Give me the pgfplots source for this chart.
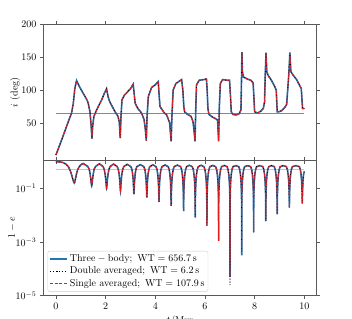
\documentclass[border=0pt]{standalone}
\usepackage{pgfplots}
\usepackage{pgfplotstable}
\pgfplotsset{compat=1.18}
\definecolor{cthree}{RGB}{31,119,180}
\definecolor{csingle}{RGB}{228,26,28}
\definecolor{ctopline}{RGB}{172,118,132}
\definecolor{cbotline}{RGB}{222,186,196}

\pgfplotstableread{
t i
0.00 1
0.25 26
0.50 52
0.63 65
0.70 80
0.76 102
0.83 114.5
0.95 105
1.10 95
1.25 85
1.30 80
1.37 67
1.42 45
1.45 26
1.48 45
1.53 60
1.64 70
1.84 85
1.95 95
2.04 102
2.10 90
2.17 82
2.38 67
2.50 60
2.55 52
2.59 27
2.62 60
2.66 85
2.75 92
2.85 96
3.00 102
3.11 109
3.15 95
3.19 80
3.30 72
3.45 65
3.55 55
3.60 40
3.64 23
3.67 60
3.72 90
3.85 104
4.00 108
4.12 113
4.15 95
4.19 75
4.35 66
4.46 62
4.58 50
4.61 35
4.64 22
4.67 60
4.72 100
4.83 110
5.06 116
5.11 100
5.15 75
5.18 67
5.30 63
5.44 60
5.52 52
5.57 35
5.60 22
5.63 70
5.66 108
5.77 115
5.95 116
6.06 117
6.09 100
6.12 72
6.16 63
6.30 59
6.45 56
6.51 54
6.53 38
6.55 22
6.58 75
6.62 110
6.71 116
6.90 115
6.99 115
7.03 90
7.06 67
7.12 63
7.25 62
7.38 64
7.45 70
7.47 110
7.49 158
7.51 128
7.55 120
7.70 117
7.85 115
7.94 111
7.97 90
8.00 67
8.12 65
8.25 68
8.35 72
8.40 82
8.43 126
8.46 157
8.49 128
8.55 122
8.66 116
8.79 107
8.87 100
8.91 67
8.99 67
9.10 69
9.20 73
9.29 78
9.38 126
9.42 157
9.46 128
9.55 123
9.69 116
9.80 108
9.88 102
9.93 72
10.00 72
}\inctable

\pgfplotstableread{
t a b c
0.00 0.97 0.97 0.97
0.10 0.965 0.965 0.965
0.20 0.95 0.95 0.95
0.30 0.90 0.90 0.90
0.40 0.80 0.80 0.80
0.50 0.64 0.64 0.64
0.58 0.45 0.45 0.45
0.64 0.30 0.30 0.30
0.70 0.19 0.19 0.19
0.73 0.16 0.16 0.16
0.74 0.155 0.155 0.155
0.75 0.16 0.16 0.16
0.78 0.21 0.21 0.21
0.83 0.35 0.35 0.35
0.88 0.50 0.50 0.50
0.94 0.64 0.64 0.64
1.02 0.77 0.77 0.77
1.10 0.84 0.84 0.84
1.285 0.65 0.65 0.65
1.34 0.515 0.515 0.515
1.375 0.352 0.352 0.352
1.407 0.209 0.209 0.209
1.427 0.141 0.141 0.141
1.435 0.126 0.126 0.126
1.44 0.122 0.122 0.122
1.445 0.126 0.126 0.126
1.453 0.141 0.141 0.141
1.473 0.209 0.209 0.209
1.505 0.352 0.352 0.352
1.54 0.515 0.515 0.515
1.595 0.65 0.65 0.65
1.75 0.82 0.82 0.82
1.896 0.648 0.648 0.648
1.944 0.51 0.51 0.51
1.98 0.345 0.345 0.345
2.01 0.197 0.197 0.197
2.028 0.122 0.122 0.122
2.035 0.104 0.104 0.104
2.04 0.10 0.10 0.10
2.045 0.104 0.104 0.104
2.052 0.122 0.122 0.122
2.07 0.197 0.197 0.197
2.10 0.345 0.345 0.345
2.136 0.51 0.51 0.51
2.184 0.648 0.648 0.648
2.32 0.80 0.80 0.80
2.468 0.645 0.645 0.645
2.512 0.506 0.506 0.506
2.545 0.339 0.339 0.339
2.5725 0.1875 0.1875 0.1875
2.589 0.1055 0.1055 0.1055
2.5955 0.0845 0.0845 0.0845
2.60 0.079 0.079 0.079
2.6045 0.0845 0.0845 0.0845
2.611 0.1055 0.1055 0.1055
2.6275 0.1875 0.1875 0.1875
2.655 0.339 0.339 0.339
2.688 0.506 0.506 0.506
2.732 0.645 0.645 0.645
2.87 0.78 0.78 0.78
3.02 0.643 0.643 0.643
3.06 0.504 0.504 0.504
3.09 0.335 0.335 0.335
3.115 0.18 0.18 0.18
3.13 0.092 0.092 0.092
3.136 0.067 0.067 0.067
3.14 0.06 0.06 0.06
3.144 0.067 0.067 0.067
3.15 0.092 0.092 0.092
3.165 0.18 0.18 0.18
3.19 0.335 0.335 0.335
3.22 0.504 0.504 0.504
3.26 0.643 0.643 0.643
3.40 0.76 0.76 0.76
3.54 0.642 0.642 0.642
3.58 0.502 0.502 0.502
3.61 0.333 0.333 0.333
3.635 0.176 0.176 0.176
3.65 0.083 0.083 0.083
3.656 0.054 0.054 0.054
3.66 0.0447 0.0447 0.0447
3.664 0.054 0.054 0.054
3.67 0.083 0.083 0.083
3.685 0.176 0.176 0.176
3.71 0.333 0.333 0.333
3.74 0.502 0.502 0.502
3.78 0.642 0.642 0.642
3.905 0.75 0.75 0.75
4.03 0.641 0.641 0.641
4.07 0.501 0.501 0.501
4.10 0.3315 0.3315 0.3315
4.125 0.173 0.173 0.173
4.14 0.0768 0.0768 0.0768
4.146 0.0436 0.0436 0.0436
4.15 0.0316 0.0316 0.0316
4.154 0.0436 0.0436 0.0436
4.16 0.0768 0.0768 0.0768
4.175 0.173 0.173 0.173
4.20 0.3315 0.3315 0.3315
4.23 0.501 0.501 0.501
4.27 0.641 0.641 0.641
4.395 0.74 0.74 0.74
4.52 0.64 0.64 0.64
4.56 0.50 0.50 0.50
4.59 0.33 0.33 0.33
4.615 0.1715 0.1715 0.1715
4.63 0.0735 0.0735 0.0735
4.636 0.0374 0.0374 0.0374
4.64 0.0224 0.0224 0.0224
4.644 0.0374 0.0374 0.0374
4.65 0.0735 0.0735 0.0735
4.665 0.1715 0.1715 0.1715
4.69 0.33 0.33 0.33
4.72 0.50 0.50 0.50
4.76 0.64 0.64 0.64
4.89 0.73 0.73 0.73
5.02 0.64 0.64 0.64
5.06 0.50 0.50 0.50
5.09 0.33 0.33 0.33
5.115 0.1706 0.1706 0.1706
5.13 0.0714 0.0714 0.0714
5.136 0.033 0.033 0.033
5.14 0.0141 0.0141 0.0141
5.144 0.033 0.033 0.033
5.15 0.0714 0.0714 0.0714
5.165 0.1706 0.1706 0.1706
5.19 0.33 0.33 0.33
5.22 0.50 0.50 0.50
5.26 0.64 0.64 0.64
5.375 0.72 0.72 0.72
5.49 0.64 0.64 0.64
5.53 0.50 0.50 0.50
5.56 0.33 0.33 0.33
5.585 0.17 0.17 0.17
5.60 0.0705 0.0705 0.0705
5.606 0.0311 0.0311 0.0311
5.61 0.0083 0.0083 0.0083
5.614 0.0311 0.0311 0.0311
5.62 0.0705 0.0705 0.0705
5.635 0.17 0.17 0.17
5.66 0.33 0.33 0.33
5.69 0.50 0.50 0.50
5.73 0.64 0.64 0.64
5.845 0.72 0.72 0.72
5.96 0.64 0.64 0.64
6.00 0.50 0.50 0.50
6.03 0.33 0.33 0.33
6.055 0.17 0.17 0.17
6.07 0.0701 0.0701 0.0701
6.076 0.0303 0.0303 0.0303
6.08 0.0041 0.0041 0.0041
6.084 0.0303 0.0303 0.0303
6.09 0.0701 0.0701 0.0701
6.105 0.17 0.17 0.17
6.13 0.33 0.33 0.33
6.16 0.50 0.50 0.50
6.20 0.64 0.64 0.64
6.315 0.71 0.71 0.71
6.43 0.64 0.64 0.64
6.47 0.50 0.50 0.50
6.50 0.33 0.33 0.33
6.525 0.17 0.17 0.17
6.54 0.07 0.07 0.07
6.546 0.03 0.03 0.03
6.55 0.0011 0.0011 0.0011
6.554 0.03 0.03 0.03
6.56 0.07 0.07 0.07
6.575 0.17 0.17 0.17
6.60 0.33 0.33 0.33
6.63 0.50 0.50 0.50
6.67 0.64 0.64 0.64
6.78 0.71 0.71 0.71
6.89 0.64 0.64 0.64
6.93 0.50 0.50 0.50
6.96 0.33 0.33 0.33
6.985 0.17 0.17 0.17
7.00 0.07 0.07 0.07
7.006 0.03 0.03 0.03
7.01 5e-5 2.5e-5 5e-5
7.014 0.03 0.03 0.03
7.02 0.07 0.07 0.07
7.035 0.17 0.17 0.17
7.06 0.33 0.33 0.33
7.09 0.50 0.50 0.50
7.13 0.64 0.64 0.64
7.245 0.70 0.70 0.70
7.36 0.64 0.64 0.64
7.40 0.50 0.50 0.50
7.43 0.33 0.33 0.33
7.455 0.17 0.17 0.17
7.47 0.07 0.07 0.07
7.476 0.03 0.03 0.03
7.48 3.2e-4 4.5e-4 4.5e-4
7.484 0.03 0.03 0.03
7.49 0.07 0.07 0.07
7.505 0.17 0.17 0.17
7.53 0.33 0.33 0.33
7.56 0.50 0.50 0.50
7.60 0.64 0.64 0.64
7.72 0.70 0.70 0.70
7.84 0.64 0.64 0.64
7.88 0.50 0.50 0.50
7.91 0.33 0.33 0.33
7.935 0.17 0.17 0.17
7.95 0.07 0.07 0.07
7.956 0.0301 0.0301 0.0301
7.96 0.0023 0.0023 0.0023
7.964 0.0301 0.0301 0.0301
7.97 0.07 0.07 0.07
7.985 0.17 0.17 0.17
8.01 0.33 0.33 0.33
8.04 0.50 0.50 0.50
8.08 0.64 0.64 0.64
8.205 0.70 0.70 0.70
8.33 0.64 0.64 0.64
8.37 0.50 0.50 0.50
8.40 0.33 0.33 0.33
8.425 0.17 0.17 0.17
8.44 0.0703 0.0703 0.0703
8.446 0.0306 0.0306 0.0306
8.45 0.006 0.006 0.006
8.454 0.0306 0.0306 0.0306
8.46 0.0703 0.0703 0.0703
8.475 0.17 0.17 0.17
8.50 0.33 0.33 0.33
8.53 0.50 0.50 0.50
8.57 0.64 0.64 0.64
8.68 0.70 0.70 0.70
8.79 0.64 0.64 0.64
8.83 0.50 0.50 0.50
8.86 0.33 0.33 0.33
8.885 0.17 0.17 0.17
8.90 0.0708 0.0708 0.0708
8.906 0.0318 0.0318 0.0318
8.91 0.0107 0.0107 0.0107
8.914 0.0318 0.0318 0.0318
8.92 0.0708 0.0708 0.0708
8.935 0.17 0.17 0.17
8.96 0.33 0.33 0.33
8.99 0.50 0.50 0.50
9.03 0.64 0.64 0.64
9.155 0.70 0.70 0.70
9.28 0.64 0.64 0.64
9.32 0.50 0.50 0.50
9.35 0.33 0.33 0.33
9.375 0.171 0.171 0.171
9.39 0.0725 0.0725 0.0725
9.396 0.0355 0.0355 0.0355
9.40 0.019 0.019 0.019
9.404 0.0355 0.0355 0.0355
9.41 0.0725 0.0725 0.0725
9.425 0.171 0.171 0.171
9.45 0.33 0.33 0.33
9.48 0.50 0.50 0.50
9.52 0.64 0.64 0.64
9.66 0.70 0.70 0.70
9.80 0.64 0.64 0.64
9.84 0.50 0.50 0.50
9.87 0.33 0.33 0.33
9.895 0.172 0.172 0.172
9.91 0.0752 0.0752 0.0752
9.916 0.0407 0.0407 0.0407
9.92 0.0275 0.0275 0.0275
9.924 0.0407 0.0407 0.0407
9.93 0.0752 0.0752 0.0752
9.945 0.172 0.172 0.172
9.97 0.33 0.33 0.33
10.00 0.42 0.42 0.42
}\ecctable

\pgfplotsset{
  common/.style={
    scale only axis,
    width=273.2pt,
    xmin=-0.5, xmax=10.5,
    xtick={0,2,4,6,8,10},
    tick align=outside,
    xtick pos=both, ytick pos=both,
    major tick length=3.5pt,
    axis line style={black!65, line width=0.8pt},
    every tick/.style={black!65, line width=0.6pt},
    tick label style={font=\normalsize},
  },
  blueline/.style={cthree, line width=1.6pt},
  blackline/.style={black, line width=0.9pt, dotted},
  redline/.style={csingle, line width=0.9pt, dash pattern=on 3pt off 1.6pt},
}

\begin{document}
\begin{tikzpicture}
\path[use as bounding box] (0,0) rectangle (352pt,318pt);

\begin{axis}[common,
  at={(43.5pt,157.7pt)}, anchor=south west,
  height=135.8pt,
  ymin=-7, ymax=200,
  ytick={50,100,150,200},
  xticklabels={},
  ylabel={$i$ (deg)},
  ylabel style={at={(axis description cs:-0.104,0.5)}, anchor=center},
]
\addplot[ctopline, line width=0.9pt] coordinates {(0,64.5) (10,64.5)};
\addplot[blueline] table[x=t, y=i] {\inctable};
\addplot[blackline] table[x=t, y=i] {\inctable};
\addplot[redline] table[x=t, y=i] {\inctable};
\end{axis}

\begin{axis}[common,
  at={(43.5pt,22.3pt)}, anchor=south west,
  height=135.4pt,
  ymode=log,
  ymin=1e-5, ymax=1.104,
  ytick={1e-5,1e-3,1e-1},
  yminorticks=false,
  xlabel={$t$/Myr},
  ylabel={$1-e$},
  ylabel style={at={(axis description cs:-0.115,0.5)}, anchor=center},
  legend cell align=left,
  legend style={at={(0.015,0.03)}, anchor=south west,
    font=\normalsize, draw=black!20, rounded corners=2pt,
    fill=white, fill opacity=0.85, text opacity=1,
    inner sep=1.5pt, row sep=0pt},
]
\addplot[cbotline, line width=0.9pt, forget plot] coordinates {(0,0.51) (10,0.51)};
\addplot[blueline] table[x=t, y=a] {\ecctable};
\addlegendentry{$\mathrm{Three-body;\ WT=656.7\,s}$}
\addplot[blackline] table[x=t, y=b] {\ecctable};
\addlegendentry{$\mathrm{Double\ averaged;\ WT=6.2\,s}$}
\addplot[redline] table[x=t, y=c] {\ecctable};
\addlegendentry{$\mathrm{Single\ averaged;\ WT=107.9\,s}$}
\end{axis}
\end{tikzpicture}
\end{document}
